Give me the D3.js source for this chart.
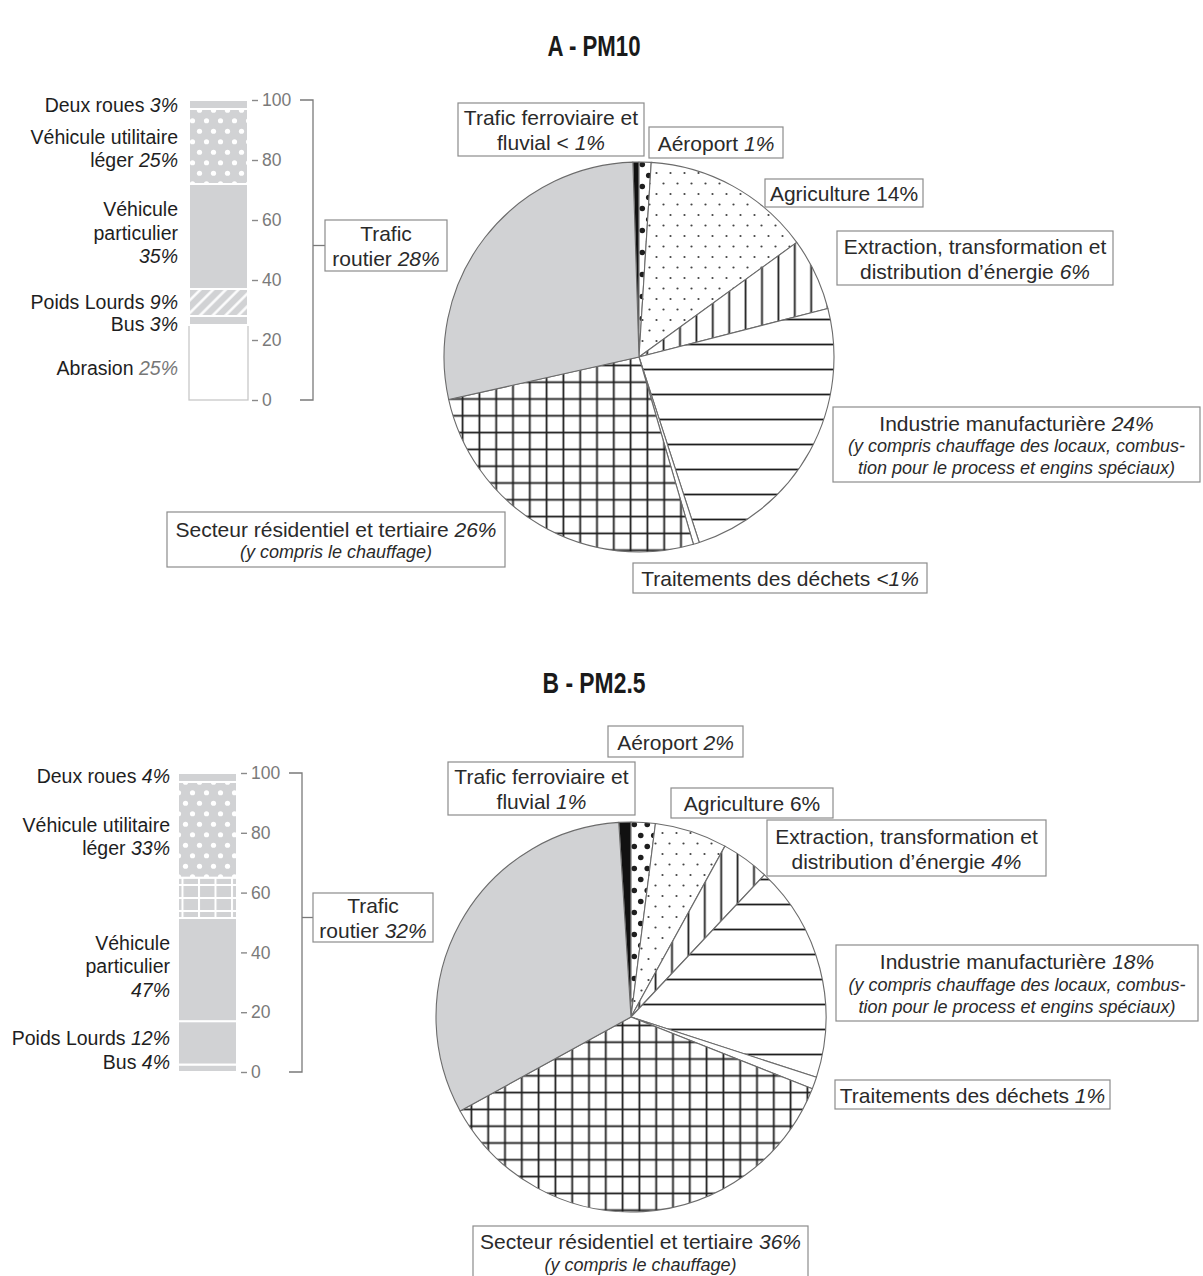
<!DOCTYPE html>
<html><head><meta charset="utf-8">
<script src="https://cdn.jsdelivr.net/npm/d3@7"></script>
<style>body{margin:0;background:#fff}svg{display:block}</style>
</head><body><svg id="c" width="1203" height="1276"></svg>
<script>
// ---------------- DATA ----------------
const sectors = ["Trafic ferroviaire et fluvial","Aéroport","Agriculture",
  "Extraction, transformation et distribution d’énergie","Industrie manufacturière",
  "Traitements des déchets","Secteur résidentiel et tertiaire","Trafic routier"];
const pm10Shares = [0.5, 1, 14, 6, 24, 0.5, 26, 28];
const pm25Shares = [1, 2, 6, 4, 18, 1, 36, 32];
const pm10SectorLabels = [
  "Trafic ferroviaire et|fluvial < *1%*",
  "Aéroport *1%*",
  "Agriculture 14%",
  "Extraction, transformation et|distribution d’énergie *6%*",
  "Industrie manufacturière *24%*|~(y compris chauffage des locaux, combus-|~tion pour le process et engins spéciaux)",
  "Traitements des déchets *<1%*",
  "Secteur résidentiel et tertiaire *26%*|~(y compris le chauffage)",
  "Trafic|routier *28%*"];
const pm25SectorLabels = [
  "Trafic ferroviaire et|fluvial *1%*",
  "Aéroport *2%*",
  "Agriculture 6%",
  "Extraction, transformation et|distribution d’énergie *4%*",
  "Industrie manufacturière *18%*|~(y compris chauffage des locaux, combus-|~tion pour le process et engins spéciaux)",
  "Traitements des déchets *1%*",
  "Secteur résidentiel et tertiaire *36%*|~(y compris le chauffage)",
  "Trafic|routier *32%*"];
// road traffic breakdown (stacked bars), blocks from bottom to top
const pm10RoadBlocks = [25, 3, 9, 35, 25, 3];
const pm25RoadBlocks = [2.5, 14.5, 34.5, 13.5, 32, 3];
const pm10RoadLabels = ["Deux roues *3%*","Véhicule utilitaire|léger *25%*","Véhicule|particulier|*35%*","Poids Lourds *9%*","Bus *3%*","Abrasion #25%#"];
const pm25RoadLabels = ["Deux roues *4%*","Véhicule utilitaire|léger *33%*","Véhicule|particulier|*47%*","Poids Lourds *12%*","Bus *4%*"];
const roadTicks = [0, 20, 40, 60, 80, 100];
const titles = ["A - PM10", "B - PM2.5"];

// ---------------- STYLE / LAYOUT ----------------
const GRAY = "#d1d2d4";
const sectorFills = ["#111","url(#p-bigdots)","url(#p-smalldots)","url(#p-vlines)","url(#p-hlines)","#fff","url(#p-grid)",GRAY];
const pm10BlockFills = ["#fff",GRAY,"url(#b-hatch)",GRAY,"url(#b-dots)",GRAY];
const pm25BlockFills = [GRAY,GRAY,GRAY,"url(#b-sqgrid)","url(#b-dots)",GRAY];
const pm10LabelBoxes = [[458,103,644,156],[649,127,783,158],[765,179,923,207],[837,231,1113,285],[833,407,1200,482],[633,563,927,593],[167,512,505,567],[325,220,447,271]];
const pm25LabelBoxes = [[448,762,635,815],[608,726,743,757],[671,788,833,818],[767,820,1046,876],[836,945,1198,1021],[835,1080,1110,1109],[473,1226,808,1278],[313,893,433,942]];
// road label anchors (value units on the bar scale)
const pm10RoadAnchors = [98.3, 83.8, 55.7, 32.7, 25.3, 10.7];
const pm25RoadAnchors = [99, 78.8, 35.3, 11.3, 3.3];

const FONT = "'Liberation Sans', Arial, Helvetica, sans-serif";
const svg = d3.select("#c");
svg.append("rect").attr("width",1203).attr("height",1276).attr("fill","#fff");
const defs = svg.append("defs");

function pat(id,w,h,bg,draw,transform){
  const p = defs.append("pattern").attr("id",id).attr("patternUnits","userSpaceOnUse")
    .attr("width",w).attr("height",h);
  if (transform) p.attr("patternTransform",transform);
  p.append("rect").attr("width",w).attr("height",h).attr("fill",bg);
  draw(p);
}
const INK = "#1e1e1e";
pat("p-bigdots",13,22,"#fff",p=>{
  p.append("circle").attr("cx",3.25).attr("cy",5.5).attr("r",2.8).attr("fill",INK);
  p.append("circle").attr("cx",9.75).attr("cy",16.5).attr("r",2.8).attr("fill",INK);
});
pat("p-smalldots",14,21,"#fff",p=>{
  p.append("circle").attr("cx",3.5).attr("cy",5).attr("r",1.1).attr("fill","#444");
  p.append("circle").attr("cx",10.5).attr("cy",15.5).attr("r",1.1).attr("fill","#444");
});
pat("p-vlines",16.4,10,"#fff",p=>{
  p.append("line").attr("x1",8.2).attr("x2",8.2).attr("y1",0).attr("y2",10).attr("stroke",INK).attr("stroke-width",1.8);
});
pat("p-hlines",10,25,"#fff",p=>{
  p.append("line").attr("x1",0).attr("x2",10).attr("y1",12.5).attr("y2",12.5).attr("stroke",INK).attr("stroke-width",1.8);
});
pat("p-grid",16.8,16.8,"#fff",p=>{
  p.append("line").attr("x1",8.4).attr("x2",8.4).attr("y1",0).attr("y2",16.8).attr("stroke",INK).attr("stroke-width",1.8);
  p.append("line").attr("x1",0).attr("x2",16.8).attr("y1",8.4).attr("y2",8.4).attr("stroke",INK).attr("stroke-width",1.8);
});
pat("b-dots",14,21,GRAY,p=>{
  p.append("circle").attr("cx",3.5).attr("cy",5.25).attr("r",2.6).attr("fill","#fff");
  p.append("circle").attr("cx",10.5).attr("cy",15.75).attr("r",2.6).attr("fill","#fff");
});
pat("b-hatch",9,9,GRAY,p=>{
  p.append("line").attr("x1",4.5).attr("x2",4.5).attr("y1",0).attr("y2",9).attr("stroke","#fff").attr("stroke-width",2.4);
},"rotate(45)");
pat("b-sqgrid",16.5,13,GRAY,p=>{
  p.append("line").attr("x1",1).attr("x2",1).attr("y1",0).attr("y2",13).attr("stroke","#fff").attr("stroke-width",2);
  p.append("line").attr("x1",0).attr("x2",16.5).attr("y1",1).attr("y2",1).attr("stroke","#fff").attr("stroke-width",2);
});

// rich text: *italic*  #gray italic#
function addRich(textSel, str){
  const parts = str.split(/(\*[^*]*\*|#[^#]*#)/).filter(s=>s.length);
  parts.forEach(s=>{
    const t = textSel.append("tspan");
    if (s[0]==="*"){ t.text(s.slice(1,-1)).attr("font-style","italic"); }
    else if (s[0]==="#"){ t.text(s.slice(1,-1)).attr("font-style","italic").attr("fill","#777"); }
    else t.text(s);
  });
}

function labelBox(box, str){
  const [x0,y0,x1,y1] = box;
  svg.append("rect").attr("x",x0).attr("y",y0).attr("width",x1-x0).attr("height",y1-y0)
    .attr("fill","#fff").attr("stroke","#8c8c8c").attr("stroke-width",1.2);
  const lines = str.split("|").map(l=>l[0]==="~"?{small:true,s:l.slice(1)}:{small:false,s:l});
  const lh = lines.map(l=>l.small?22:25);
  const total = d3.sum(lh);
  let y = (y0+y1)/2 - total/2;
  lines.forEach((l,i)=>{
    const t = svg.append("text").attr("x",(x0+x1)/2).attr("y",y+lh[i]/2)
      .attr("text-anchor","middle").attr("dominant-baseline","central")
      .attr("font-family",FONT).attr("font-size",l.small?18:21).attr("fill","#2a2a2a");
    if (l.small){ t.attr("font-style","italic"); }
    addRich(t, l.s);
    y += lh[i];
  });
}

function drawPie(cx,cy,r,values,labels,boxes){
  const total = d3.sum(values);
  const off = values[0]/total*2*Math.PI;
  const pie = d3.pie().sort(null).startAngle(-off).endAngle(2*Math.PI-off);
  const arc = d3.arc().innerRadius(0).outerRadius(r);
  const g = svg.append("g").attr("transform",`translate(${cx},${cy})`);
  g.selectAll("path").data(pie(values)).join("path")
    .attr("d",arc).attr("fill",(d,i)=>sectorFills[i])
    .attr("stroke","#6b6b6b").attr("stroke-width",1.1).attr("stroke-linejoin","round");
  labels.forEach((s,i)=>labelBox(boxes[i],s));
}

function drawBar(opt){
  const y = d3.scaleLinear().domain([0,100]).range([opt.yBottom,opt.yTop]);
  const ends = Array.from(d3.cumsum(opt.blocks));
  const g = svg.append("g");
  g.selectAll("rect").data(opt.blocks).join("rect")
    .attr("x",opt.x).attr("width",opt.w)
    .attr("y",(d,i)=>y(ends[i]))
    .attr("height",(d,i)=>y(ends[i]-d)-y(ends[i]))
    .attr("fill",(d,i)=>opt.fills[i])
    .attr("stroke",(d,i)=>opt.fills[i]==="#fff"?"#c8c8c8":"#fff")
    .attr("stroke-width",(d,i)=>opt.fills[i]==="#fff"?1.3:2);
  // axis
  const ax = svg.append("g").attr("transform",`translate(${opt.x+opt.w+4},0)`)
    .call(d3.axisRight(y).tickValues(roadTicks).tickSize(6).tickPadding(4));
  ax.select(".domain").remove();
  ax.selectAll("line").attr("stroke","#8a8a8a").attr("stroke-width",1.4);
  ax.selectAll("text").attr("fill","#7a7a7a").attr("font-size",17.5).attr("font-family",FONT);
  // labels
  opt.labels.forEach((s,i)=>{
    const lines = s.split("|");
    const c = y(opt.anchors[i]);
    lines.forEach((l,j)=>{
      const t = svg.append("text").attr("x",opt.labelX).attr("y",c+(j-(lines.length-1)/2)*23.5)
        .attr("text-anchor","end").attr("dominant-baseline","central")
        .attr("font-family",FONT).attr("font-size",19.5).attr("fill","#1e1e1e");
      addRich(t,l);
    });
  });
  // bracket
  const bx = opt.bracketX, mid = (opt.box[1]+opt.box[3])/2;
  const br = svg.append("g").attr("stroke","#7a7a7a").attr("stroke-width",1.3).attr("fill","none");
  br.append("path").attr("d",`M${bx-13},${y(100)}H${bx}V${y(0)}H${bx-13}`);
  br.append("line").attr("x1",bx).attr("x2",opt.box[0]).attr("y1",mid).attr("y2",mid);
}

// titles (condensed bold)
[[titles[0],45,93],[titles[1],682,103]].forEach(([t,yy,len])=>{
  svg.append("text").attr("x",594).attr("y",yy).attr("text-anchor","middle").attr("dominant-baseline","central")
    .attr("font-family",FONT).attr("font-weight","bold").attr("font-size",30).attr("fill","#1a1a1a")
    .attr("textLength",len).attr("lengthAdjust","spacingAndGlyphs").text(t);
});

drawBar({x:189,w:59,yBottom:400,yTop:100,blocks:pm10RoadBlocks,fills:pm10BlockFills,
  labels:pm10RoadLabels,anchors:pm10RoadAnchors,labelX:178,bracketX:313,box:pm10LabelBoxes[7]});
drawBar({x:178,w:59,yBottom:1072,yTop:773,blocks:pm25RoadBlocks,fills:pm25BlockFills,
  labels:pm25RoadLabels,anchors:pm25RoadAnchors,labelX:170,bracketX:302,box:pm25LabelBoxes[7]});

drawPie(639,357,195,pm10Shares,pm10SectorLabels,pm10LabelBoxes);
drawPie(631,1017,195,pm25Shares,pm25SectorLabels,pm25LabelBoxes);
</script></body></html>
